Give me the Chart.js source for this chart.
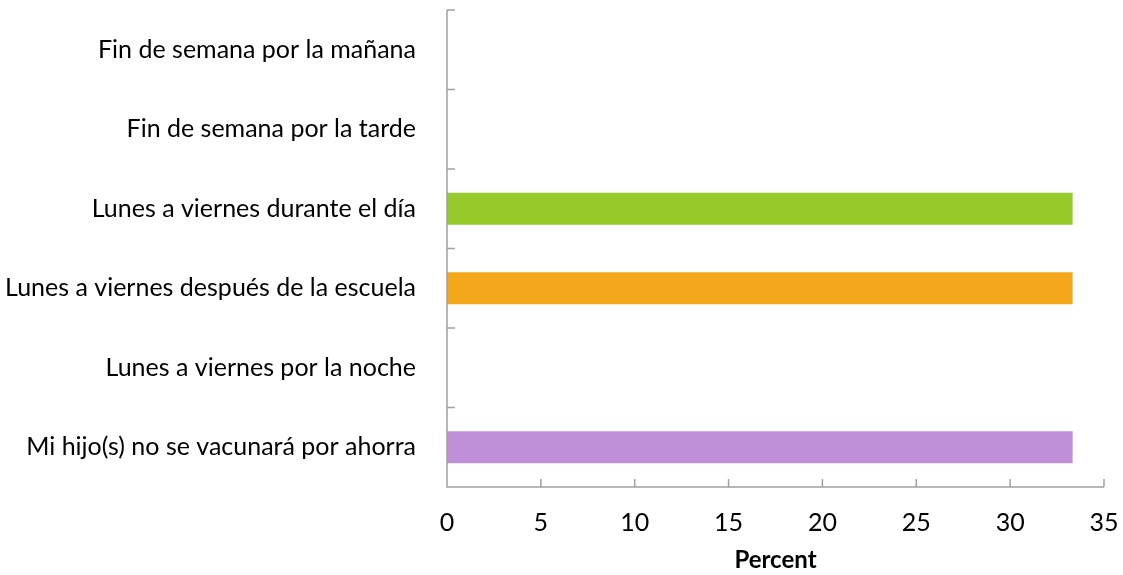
<!DOCTYPE html>
<html>
<head>
<meta charset="utf-8">
<script src="https://cdn.jsdelivr.net/npm/chart.js@4/dist/chart.umd.min.js"></script>
<style>
  html, body { margin: 0; padding: 0; background: #fff; }
  #wrap { width: 1123px; height: 575px; }
</style>
</head>
<body>
<div id="wrap"><canvas id="chart" width="1123" height="575"></canvas></div>
<script>
const categories = [
  "Fin de semana por la mañana",
  "Fin de semana por la tarde",
  "Lunes a viernes durante el día",
  "Lunes a viernes después de la escuela",
  "Lunes a viernes por la noche",
  "Mi hijo(s) no se vacunará por ahorra"
];
const percents = [0, 0, 33.33, 33.33, 0, 33.33];
const barColors = ["#4f81bd", "#c0504d", "#96c92a", "#f5a71c", "#4bacc6", "#bf8fd7"];
const xTicks = [0, 5, 10, 15, 20, 25, 30, 35];

const axisColor = "#a0a0a0";
const fontFamily = 'Lato';
const fontSize = 25;

// tick marks pointing into the plot, like the original
const innerTicks = {
  id: 'innerTicks',
  afterDraw(chart) {
    const ctx = chart.ctx;
    const x = chart.scales.x, y = chart.scales.y;
    const band = y.getPixelForValue(1) - y.getPixelForValue(0);
    ctx.save();
    ctx.strokeStyle = axisColor;
    ctx.lineWidth = 1.5;
    ctx.beginPath();
    ctx.moveTo(x.left, y.top);
    ctx.lineTo(x.left, y.bottom);
    ctx.lineTo(x.right, y.bottom);
    for (let i = 0; i < categories.length; i++) {
      const py = y.getPixelForValue(i) - band / 2;
      ctx.moveTo(x.left, py);
      ctx.lineTo(x.left + 8, py);
    }
    xTicks.forEach(v => {
      const px = x.getPixelForValue(v);
      ctx.moveTo(px, y.bottom);
      ctx.lineTo(px, y.bottom - 8);
    });
    ctx.stroke();
    ctx.restore();
  }
};

new Chart(document.getElementById('chart').getContext('2d'), {
  type: 'bar',
  data: {
    labels: categories,
    datasets: [{
      data: percents,
      backgroundColor: barColors,
      barPercentage: 0.4,
      categoryPercentage: 1.0
    }]
  },
  options: {
    indexAxis: 'y',
    responsive: false,
    animation: false,
    layout: { padding: { top: 10, right: 19, left: 0, bottom: 0 } },
    plugins: { legend: { display: false }, tooltip: { enabled: false } },
    scales: {
      x: {
        min: 0, max: 35,
        afterBuildTicks: s => { s.ticks = xTicks.map(v => ({ value: v })); },
        afterFit: s => { s.height = 88; s.paddingLeft = 0; s.paddingRight = 0; },
        grid: { display: false, drawTicks: false },
        border: { display: false },
        ticks: { color: '#000', padding: 21, font: { family: fontFamily, size: fontSize } },
        title: {
          display: true, text: 'Percent', color: '#000',
          font: { family: fontFamily, size: 24, weight: 'bold' }, padding: { top: 4, bottom: 0 }
        }
      },
      y: {
        afterFit: s => { s.width = 447; s.paddingTop = 0; s.paddingBottom = 0; },
        grid: { display: false, drawTicks: false },
        border: { display: false },
        ticks: { color: '#000', padding: 31, font: { family: fontFamily, size: fontSize } }
      }
    }
  },
  plugins: [innerTicks]
});
</script>
</body>
</html>
